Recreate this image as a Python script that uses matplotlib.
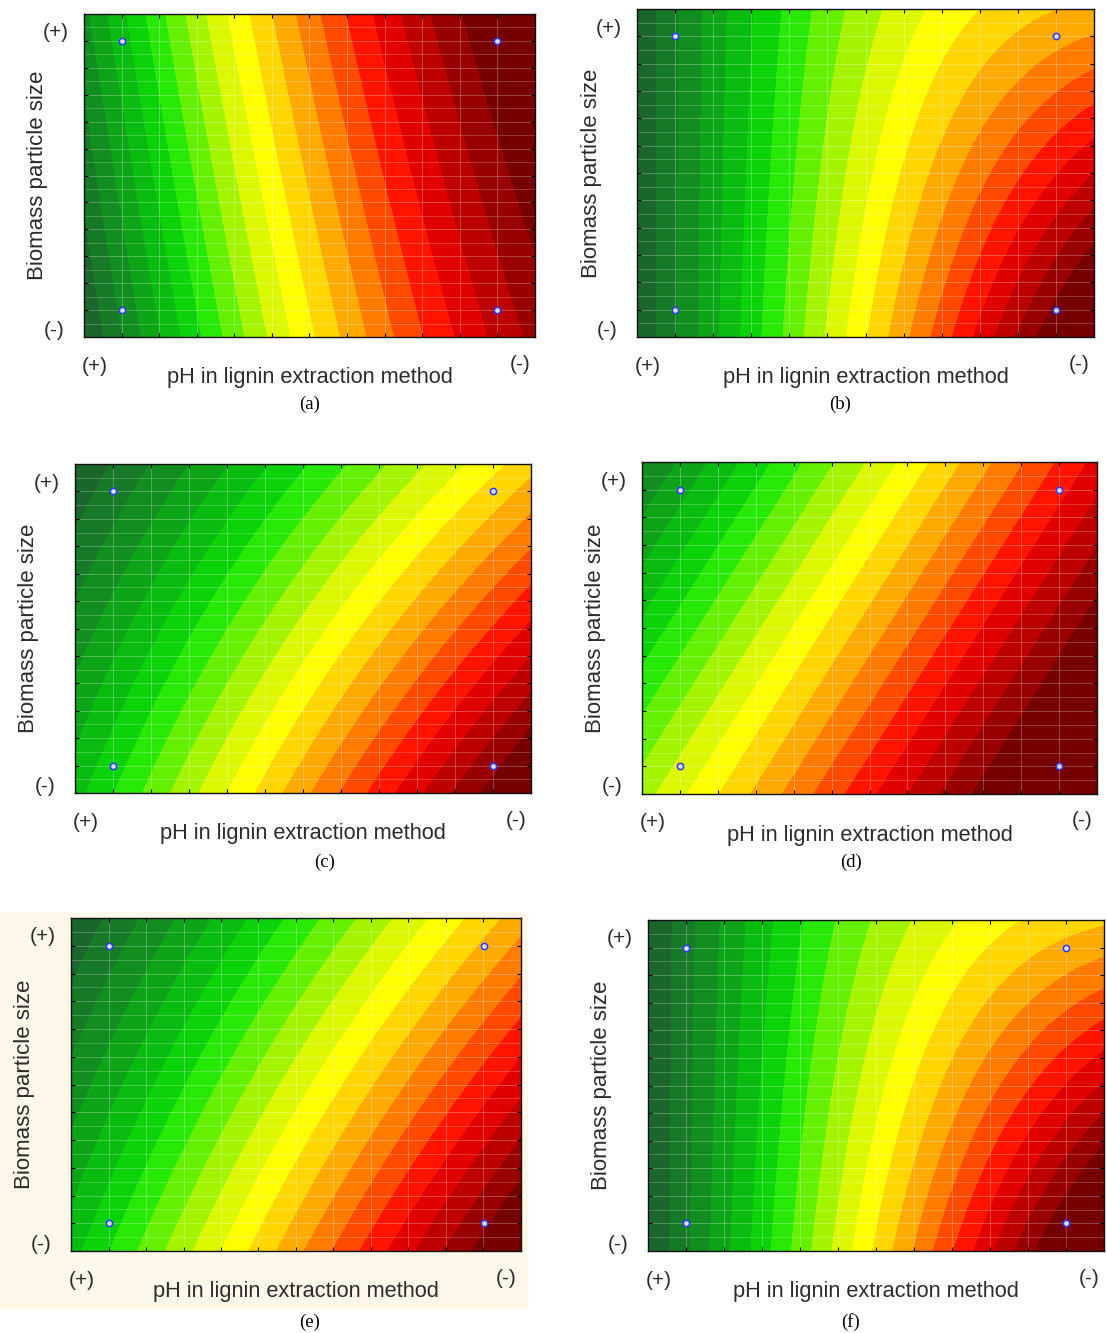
import numpy as np
import matplotlib
matplotlib.use("Agg")
import matplotlib.pyplot as plt
from matplotlib.colors import ListedColormap
from matplotlib.patches import Rectangle

plt.rcParams['font.family'] = ['Liberation Sans', 'DejaVu Sans']

W, H = 1107, 1333

# band colours of the contour palette (dark green -> yellow -> dark red)
band_colors = ['#1a662c', '#177a26', '#128e20', '#0ea418', '#0abb10', '#0cd20a',
               '#28e806', '#64f000', '#a4f400', '#dcf800', '#ffff00', '#ffd600',
               '#ffaa00', '#ff7c00', '#ff4a00', '#ff1400', '#e00000', '#bc0000',
               '#980000', '#760000']

panel_names = ['(a)', '(b)', '(c)', '(d)', '(e)', '(f)']
xlabel = 'pH in lignin extraction method'
ylabel = 'Biomass particle size'

# surface coefficients, u/v = horizontal/vertical fraction of the plot
# z = b0 + bu*u + bv*v + buv*u*v + buu*u^2 + buuv*u^2*v
b0   = [-0.06, -0.05,  0.20,  0.42,  0.20, -0.06]
bu   = [ 1.39,  1.20,  0.90,  0.80,  0.90,  1.25]
bv   = [ 0.154, 0.00, -0.25, -0.37, -0.25,  0.00]
buv  = [ 0.00,  0.00, -0.26,  0.00, -0.21, -0.09]
buu  = [-0.37,  0.00,  0.00,  0.00,  0.00,  0.00]
buuv = [ 0.00, -0.525, 0.00,  0.00,  0.00, -0.50]

# design points (coded levels)
design_x = [-1, -1, 1, 1]
design_y = [-1, 1, -1, 1]

# axes boxes in pixels: left, top, right, bottom
boxes = [(84, 14, 535, 337), (637, 9, 1094, 337),
         (75, 464, 531, 793), (642, 462, 1097, 794),
         (71, 918, 521, 1251), (648, 920, 1104, 1251)]
captions = [(310, 404), (840, 404), (325, 862), (851, 862), (310, 1322), (851, 1322)]

fig = plt.figure(figsize=(W / 100, H / 100), dpi=100)

def fx(px):
    return px / W

def fy(py):
    return 1 - py / H

# cream backdrop behind panel (e)
fig.patches.append(Rectangle((0, fy(1308)), fx(527), fy(912) - fy(1308),
                             transform=fig.transFigure, color='#fdf8ea', zorder=-10))

cmap = ListedColormap(band_colors[1:-1])
cmap.set_under(band_colors[0])
cmap.set_over(band_colors[-1])
levels = np.linspace(0.0, 1.0, len(band_colors) - 1)

g = np.linspace(-1.2, 1.2, 300)
X, Y = np.meshgrid(g, g)
U = (X + 1.2) / 2.4
V = (Y + 1.2) / 2.4

txt = '#2b2b2b'
for i in range(6):
    l, t, r, b = boxes[i]
    ax = fig.add_axes([fx(l), fy(b), fx(r - l), fy(t) - fy(b)])
    Z = (b0[i] + bu[i] * U + bv[i] * V + buv[i] * U * V
         + buu[i] * U ** 2 + buuv[i] * U ** 2 * V)
    ax.contourf(X, Y, Z, levels=levels, cmap=cmap, extend='both')
    ax.set_xlim(-1.2, 1.2)
    ax.set_ylim(-1.2, 1.2)
    ax.set_xticks(np.arange(-1.0, 1.01, 0.2))
    ax.set_yticks(np.arange(-1.0, 1.01, 0.2))
    ax.set_yticks(np.arange(-1.1, 1.11, 0.2), minor=True)
    ax.grid(True, which='major', color='white', alpha=0.3, lw=0.6)
    ax.grid(True, which='minor', axis='y', color='white', alpha=0.25, lw=0.6)
    ax.tick_params(which='both', direction='in', length=3, top=True, right=True,
                   labelbottom=False, labelleft=False)
    ax.tick_params(which='minor', length=0)
    for s in ax.spines.values():
        s.set_linewidth(1.0)
        s.set_color('#111111')
    ax.plot(design_x, design_y, 'o', ms=4.5, mfc='#dcdcff', mec='#2a3cff', mew=1.1,
            ls='none', zorder=5)

    fig.text(fx(l - 46), fy((t + b) / 2), ylabel, rotation=90, ha='center', va='center',
             fontsize=16, color=txt)
    fig.text(fx(l - 28), fy(t + 19), '(+)', ha='center', va='center', fontsize=15, color=txt)
    fig.text(fx(l - 30), fy(b - 7), '(-)', ha='center', va='center', fontsize=15, color=txt)
    fig.text(fx(l + 11), fy(b + 29), '(+)', ha='center', va='center', fontsize=15, color=txt)
    fig.text(fx(r - 15), fy(b + 27), '(-)', ha='center', va='center', fontsize=15, color=txt)
    fig.text(fx((l + r) / 2), fy(b + 41), xlabel, ha='center', va='center',
             fontsize=15.7, color=txt)
    cx, cy = captions[i]
    fig.text(fx(cx), fy(cy), panel_names[i], ha='center', va='center', fontsize=13.5,
             family=['Liberation Serif', 'DejaVu Serif'], color='black')

fig.savefig('out.png', dpi=100)
